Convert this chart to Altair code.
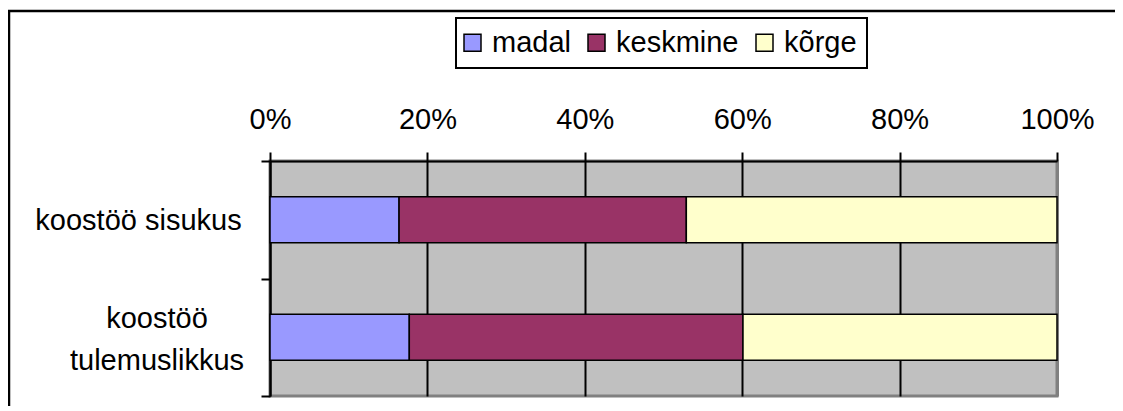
import altair as alt
import pandas as pd

categories = ["koostöö sisukus", "koostöö tulemuslikkus"]
series = ["madal", "keskmine", "kõrge"]
madal = [16.4, 17.7]
keskmine = [36.5, 42.4]
korge = [47.1, 39.9]
colors = ["#9999FF", "#993366", "#FFFFCC"]
x_ticks = [0, 0.2, 0.4, 0.6, 0.8, 1.0]
label_lines = [["koostöö sisukus"], ["koostöö", "tulemuslikkus"]]

rows = []
for i, c in enumerate(categories):
    for j, (s, vals) in enumerate(zip(series, [madal, keskmine, korge])):
        rows.append({"kategooria": c, "tase": s, "väärtus": vals[i], "järjekord": j})
df = pd.DataFrame(rows)
lab_df = pd.DataFrame({"kategooria": categories})

FONT = "Liberation Sans"
FS = 29

y_enc = alt.Y(
    "kategooria:N",
    sort=categories,
    scale=alt.Scale(paddingInner=0, paddingOuter=0),
    axis=alt.Axis(
        labels=False, title=None, tickBand="extent", grid=False,
        domainColor="black", domainWidth=2,
        tickColor="black", tickWidth=2, tickSize=9,
    ),
)

bars = alt.Chart(df).mark_bar(
    height={"band": 0.39}, stroke="black", strokeWidth=1.5
).encode(
    x=alt.X(
        "väärtus:Q",
        stack="normalize",
        scale=alt.Scale(domain=[0, 1]),
        axis=alt.Axis(
            orient="top", format="%", values=x_ticks, title=None,
            domainColor="black", domainWidth=2,
            tickColor="black", tickWidth=2, tickSize=9,
            labelPadding=24, labelBaseline="alphabetic",
            labelFont=FONT, labelFontSize=FS, labelColor="black",
            labelFlush=False, labelOverlap=False,
            grid=True,
            gridColor={"condition": {"test": "datum.value >= 1", "value": "#808080"}, "value": "black"},
            gridWidth={"condition": {"test": "datum.value >= 1", "value": 3}, "value": 2},
        ),
    ),
    y=y_enc,
    color=alt.Color(
        "tase:N",
        scale=alt.Scale(domain=series, range=colors),
        legend=alt.Legend(
            title=None, orient="none", legendX=186, legendY=-143,
            direction="horizontal", columns=3,
            labelFont=FONT, labelFontSize=FS, labelColor="black",
            symbolType="square", symbolSize=289,
            symbolStrokeColor="black", symbolStrokeWidth=1.5, symbolOpacity=1,
            symbolOffset=-8,
            labelOffset=5, columnPadding=14, padding=10,
            strokeColor="black", fillColor="white",
        ),
    ),
    order=alt.Order("järjekord:Q"),
)

label1 = alt.Chart(lab_df).transform_filter(
    alt.datum.kategooria == categories[0]
).mark_text(
    text=label_lines[0], align="center", baseline="alphabetic",
    font=FONT, fontSize=FS, color="black", x=-131.5, dy=10,
).encode(y=alt.Y("kategooria:N", sort=categories))

label2 = alt.Chart(lab_df).transform_filter(
    alt.datum.kategooria == categories[1]
).mark_text(
    text=label_lines[1], align="center", baseline="alphabetic",
    font=FONT, fontSize=FS, color="black", x=-113, dy=-9, lineHeight=42,
).encode(y=alt.Y("kategooria:N", sort=categories))

frame = alt.Chart(pd.DataFrame({"a": [0]})).mark_rect(
    fill="transparent", stroke="black", strokeWidth=2.5
).encode(
    x=alt.value(-261), x2=alt.value(900),
    y=alt.value(-150), y2=alt.value(300),
)

chart = alt.layer(bars, label1, label2, frame).properties(
    width=787, height=235,
    autosize=alt.AutoSizeParams(type="none"),
    padding={"left": 262, "top": 153, "right": 58, "bottom": 10},
).configure_view(
    fill="#C0C0C0", stroke="#808080", strokeWidth=3
).configure_legend(
    strokeWidth=2
)

chart.save("out.html", embed_options={"renderer": "svg", "actions": False})
